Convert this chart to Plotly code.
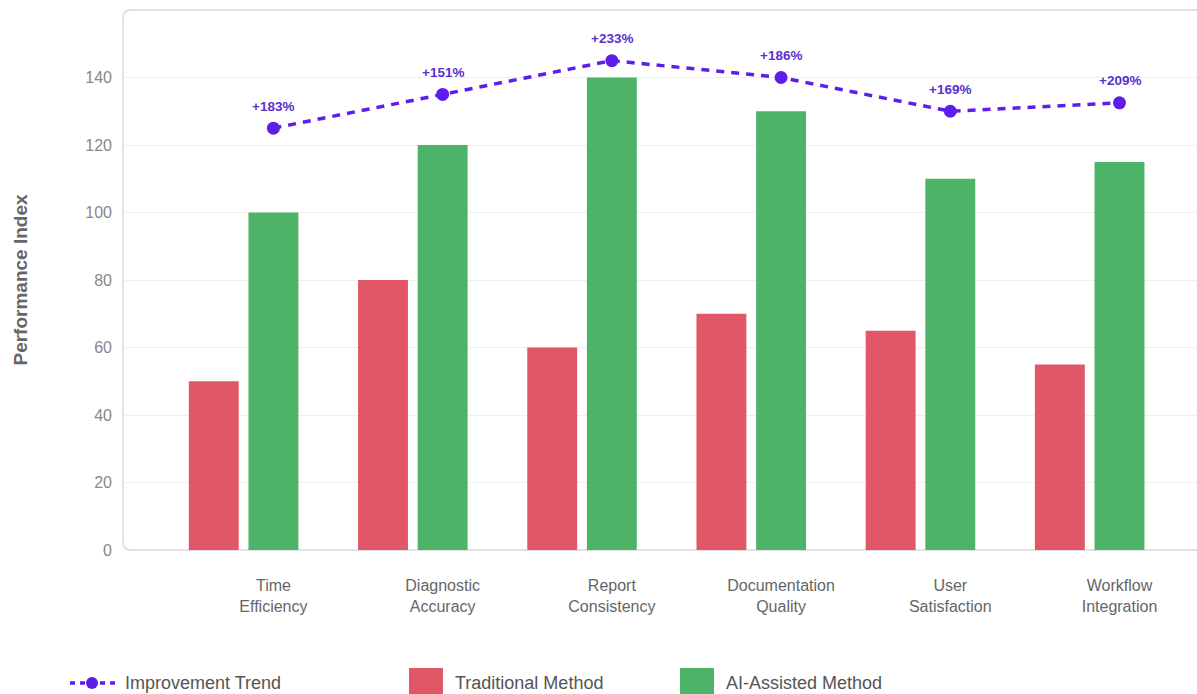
import plotly.graph_objects as go

categories = ["Time Efficiency", "Diagnostic Accuracy", "Report Consistency",
              "Documentation Quality", "User Satisfaction", "Workflow Integration"]
tick_labels = ["Time<br>Efficiency", "Diagnostic<br>Accuracy", "Report<br>Consistency",
               "Documentation<br>Quality", "User<br>Satisfaction", "Workflow<br>Integration"]
traditional = [50, 80, 60, 70, 65, 55]
ai_assisted = [100, 120, 140, 130, 110, 115]
trend = [125, 135, 145, 140, 130, 132.5]
improvement_labels = ["+183%", "+151%", "+233%", "+186%", "+169%", "+209%"]
y_ticks = [0, 20, 40, 60, 80, 100, 120, 140]

RED = "#E15768"
GREEN = "#4DB366"
PURPLE = "#5E1EEA"
FONT = "Liberation Sans, Arial, sans-serif"

W, H = 1197, 694
ML, MR, MT, MB = 123, 0, 10, 144
PW, PH = W - ML - MR, H - MT - MB

fig = go.Figure()
fig.add_trace(go.Bar(x=categories, y=traditional, name="Traditional Method",
                     marker=dict(color=RED, line=dict(width=0)),
                     offset=-0.5, width=0.295, showlegend=False))
fig.add_trace(go.Bar(x=categories, y=ai_assisted, name="AI-Assisted Method",
                     marker=dict(color=GREEN, line=dict(width=0)),
                     offset=-0.1475, width=0.295, showlegend=False))
fig.add_trace(go.Scatter(x=categories, y=trend, name="Improvement Trend",
                         mode="lines+markers",
                         line=dict(color=PURPLE, width=3.5, dash="8px,7px"),
                         marker=dict(color=PURPLE, size=13),
                         showlegend=False))

annotations = []
for c, v, t in zip(categories, trend, improvement_labels):
    annotations.append(dict(x=c, y=v, text="<b>%s</b>" % t, showarrow=False,
                            yshift=22, font=dict(family=FONT, size=13.5, color="#5B30D0")))

def px_x(p):
    return (p - ML) / PW

def px_y(p):
    return (H - MB - p) / PH

# rounded frame around plot area
rx, ry = 8 / PW, 8 / PH
shapes = [dict(type="path", xref="paper", yref="paper", layer="between",
               path=f"M 1,1 L {rx},1 Q 0,1 0,{1-ry} L 0,{ry} Q 0,0 {rx},0 L 1,0",
               line=dict(color="#e2e2e2", width=2))]

# custom legend
ly = 683
shapes.append(dict(type="line", xref="paper", yref="paper",
                   x0=px_x(70), x1=px_x(116), y0=px_y(ly), y1=px_y(ly),
                   line=dict(color=PURPLE, width=3.5, dash="5px,5px")))
shapes.append(dict(type="circle", xref="paper", yref="paper",
                   x0=px_x(86), x1=px_x(98), y0=px_y(ly + 6), y1=px_y(ly - 6),
                   fillcolor=PURPLE, line=dict(width=0)))
legend_items = [(409, RED, "Traditional Method"), (680, GREEN, "AI-Assisted Method")]
for x0, col, name in legend_items:
    shapes.append(dict(type="rect", xref="paper", yref="paper",
                       x0=px_x(x0), x1=px_x(x0 + 34), y0=px_y(668), y1=px_y(700),
                       fillcolor=col, line=dict(width=0)))
    annotations.append(dict(xref="paper", yref="paper", x=px_x(x0 + 44), y=px_y(ly),
                            xanchor="left", yanchor="middle", text=name, showarrow=False,
                            font=dict(family=FONT, size=18, color="#555555")))
annotations.append(dict(xref="paper", yref="paper", x=px_x(123), y=px_y(ly),
                        xanchor="left", yanchor="middle", text="Improvement Trend",
                        showarrow=False, font=dict(family=FONT, size=18, color="#555555")))

fig.update_layout(
    width=W, height=H,
    margin=dict(l=ML, r=MR, t=MT, b=MB, autoexpand=False),
    paper_bgcolor="white", plot_bgcolor="white",
    barmode="overlay",
    showlegend=False,
    font=dict(family=FONT),
    shapes=shapes,
    annotations=annotations,
    xaxis=dict(type="category", range=[-0.889, 5.458],
               tickvals=categories, ticktext=tick_labels,
               showgrid=False, zeroline=False, showline=False, ticks="",
               ticklabelstandoff=24,
               tickfont=dict(family=FONT, size=16, color="#666666")),
    yaxis=dict(range=[0, 160], tickvals=y_ticks,
               showgrid=True, gridcolor="#efefef", gridwidth=1,
               zeroline=False, showline=False, ticks="",
               ticklabelstandoff=10,
               tickfont=dict(family=FONT, size=16, color="#888888"),
               title=dict(text="<b>Performance Index</b>", standoff=52,
                          font=dict(family=FONT, size=19, color="#666666"))),
)

fig.write_html("out.html")
